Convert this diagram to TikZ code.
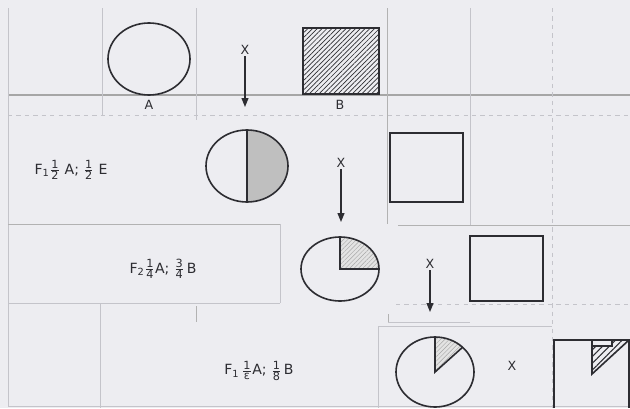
\documentclass[tikz,border=0pt]{standalone}
\usepackage{fontspec}
\setmainfont{DejaVu Sans}
\usetikzlibrary{arrows.meta,patterns,patterns.meta}
\definecolor{scanbg}{RGB}{237,237,241}
\definecolor{inkgrey}{RGB}{45,45,50}
\definecolor{gridgrey}{RGB}{196,196,202}
\newcommand{\frsf}[2]{$\frac{\mbox{\footnotesize #1}}{\mbox{\footnotesize #2}}$}

\begin{document}
\begin{tikzpicture}[x=0.025cm, y=-0.025cm,
    lbl/.style={font=\small, text=inkgrey, inner sep=1pt},
    frac/.style={font=\normalsize, text=inkgrey, inner sep=1pt},
    shp/.style={draw=inkgrey, line width=1.15pt},
    rule/.style={gridgrey, line width=0.5pt},
    arr/.style={-{Triangle[length=2.2mm, width=1.7mm]}, inkgrey, line width=0.9pt}
]
    \fill[scanbg] (0,0) rectangle (630,408);
    \useasboundingbox (0,0) rectangle (630,408);

    % Table rules
    \draw[gray!70, line width=0.8pt] (8,95) -- (630,95);
    \draw[rule, dashed] (8,115) -- (630,115);
    \draw[rule] (8,8) -- (8,406) (8,406) -- (630,406);
    \draw[rule] (102,8) -- (102,115);
    \draw[rule] (196,8) -- (196,120);
    \draw[rule, gray!60] (387,8) -- (387,224);
    \draw[rule] (470,8) -- (470,225);
    \draw[rule, dashed] (552,8) -- (552,408);
    \draw[rule, gray!60] (8,224) -- (281,224) (398,225) -- (630,225);
    \draw[rule] (8,303) -- (280,303) (280,224) -- (280,303);
    \draw[rule, dashed] (396,304) -- (630,304);
    \draw[rule] (100,303) -- (100,408);
    \draw[rule, gray!60] (196,306) -- (196,322) (388,314) -- (388,322);
    \draw[rule] (388,322) -- (470,322);
    \draw[rule] (378,326) -- (378,408) (378,326) -- (552,326);

    % Row 1: A and B
    \draw[shp] (149,59) ellipse [x radius=41, y radius=36];
    \node[lbl] (labA) at (149,105) {A};
    \draw[shp, pattern={Lines[angle=45, distance=2.4pt, line width=0.5pt]}, pattern color=inkgrey]
        (303,28) rectangle (379,94);
    \node[lbl] (labB) at (340,105) {B};
    \node[lbl] (x1) at (245,50) {X};
    \coordinate (x1end) at (245,107);
    \draw[arr] (x1) -- (x1end);

    % Row 2: F1
    \fill[gray!50] (247,130) arc [start angle=-90, end angle=90, x radius=41, y radius=36] -- cycle;
    \draw[shp] (247,166) ellipse [x radius=41, y radius=36];
    \draw[shp] (247,130) -- (247,202);
    \draw[shp] (390,133) rectangle (463,202);
    \node[frac] (f1) at (71,170) {F\textsubscript{1}\frsf12 A; \frsf12 E};
    \node[lbl] (x2) at (341,163) {X};
    \coordinate (x2end) at (341,222);
    \draw[arr] (x2) -- (x2end);

    % Row 3: F2
    \fill[gray!22] (340,269) -- (340,237) arc [start angle=-90, end angle=0, x radius=39, y radius=32] -- cycle;
    \fill[pattern={Lines[angle=45, distance=2.2pt, line width=0.3pt]}, pattern color=gray!70]
        (340,269) -- (340,237) arc [start angle=-90, end angle=0, x radius=39, y radius=32] -- cycle;
    \draw[shp] (340,269) ellipse [x radius=39, y radius=32];
    \draw[shp] (340,237) -- (340,269) -- (379,269);
    \draw[shp] (470,236) rectangle (543,301);
    \node[frac] (f2) at (163,269) {F\textsubscript{2}\frsf14A; \frsf34\,B};
    \node[lbl] (x3) at (430,264) {X};
    \coordinate (x3end) at (430,312);
    \draw[arr] (x3) -- (x3end);

    % Row 4: back to F1
    \fill[gray!22] (435,372) -- (435,337) arc [start angle=-90, end angle=-45, x radius=39, y radius=35] -- cycle;
    \fill[pattern={Lines[angle=45, distance=2.2pt, line width=0.3pt]}, pattern color=gray!70]
        (435,372) -- (435,337) arc [start angle=-90, end angle=-45, x radius=39, y radius=35] -- cycle;
    \draw[shp] (435,372) ellipse [x radius=39, y radius=35];
    \draw[shp] (435,337) -- (435,372) -- +(-45:39 and 35);
    \draw[shp] (554,408) -- (554,340) -- (629,340) -- (629,408);
    \draw[shp, pattern={Lines[angle=45, distance=3.4pt, line width=0.7pt]}, pattern color=inkgrey]
        (592,346) -- (612,346) -- (612,340) -- (629,340) -- (592,374) -- cycle;
    \draw[shp] (592,340) rectangle (612,346);
    \node[frac] (f3) at (259,371) {F\textsubscript{1}\,\frsf1εA; \frsf18\,B};
    \node[lbl] (x4) at (512,366) {X};
\end{tikzpicture}
\end{document}
